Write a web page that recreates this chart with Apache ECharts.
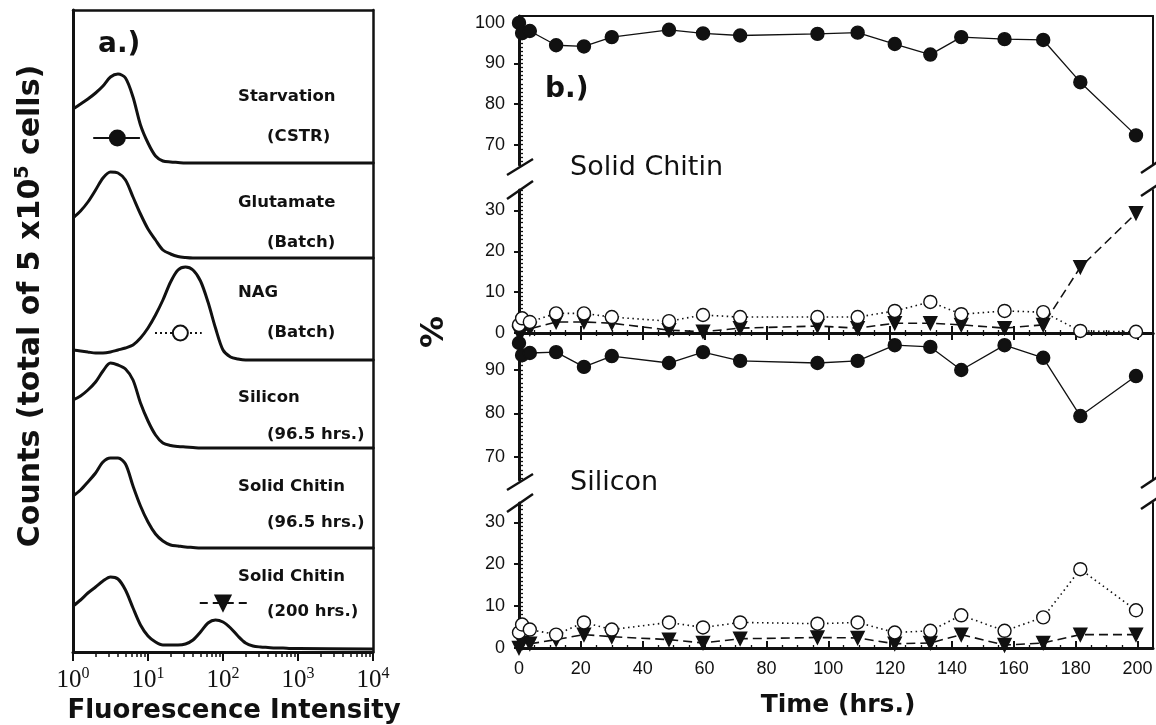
<!DOCTYPE html>
<html>
<head>
<meta charset="utf-8">
<title>Fluorescence histograms and population fractions</title>
<script src="https://cdn.jsdelivr.net/npm/echarts@6.0.0/dist/echarts.min.js"></script>
<style>
  html, body { margin: 0; padding: 0; background: #fff; }
  #chart { width: 1156px; height: 725px; }
</style>
</head>
<body>
<div id="chart"></div>
<script>
// ---- panel a: histograms, counts vs fluorescence intensity (log scale)
const intensity = [1, 1.26, 1.58, 2.0, 2.51, 3.16, 3.98, 5.01, 6.31, 7.94,
  10, 12.6, 15.8, 20.0, 25.1, 31.6, 39.8, 50.1, 63.1, 79.4,
  100, 126, 158, 200, 251, 316, 398, 501, 631, 794, 1000, 10000];

const starvation = [54, 59, 64, 70, 77, 86, 89, 85, 66, 38, 20, 7, 2, 1, 0.5, 0,
  0, 0, 0, 0, 0, 0, 0, 0, 0, 0, 0, 0, 0, 0, 0, 0];
const glutamate = [40, 47, 56, 68, 80, 86, 85, 78, 61, 44, 29, 18, 8, 4, 1.5, 0.5,
  0, 0, 0, 0, 0, 0, 0, 0, 0, 0, 0, 0, 0, 0, 0, 0];
const nag = [10, 9, 8, 7, 7, 8, 10, 12, 15, 22, 32, 45, 60, 78, 90, 93, 90, 79, 58, 32,
  10, 3, 1, 0, 0, 0, 0, 0, 0, 0, 0, 0];
const silicon = [48, 52, 58, 66, 77, 85, 83, 79, 68, 45, 27, 13, 5, 2.5, 1.5, 1, 0.5, 0, 0, 0,
  0, 0, 0, 0, 0, 0, 0, 0, 0, 0, 0, 0];
const chitin96 = [52, 58, 66, 75, 86, 90, 90, 84, 62, 42, 26, 14, 7, 3, 2, 1, 0.5, 0, 0, 0,
  0, 0, 0, 0, 0, 0, 0, 0, 0, 0, 0, 0];
const chitin200 = [46, 52, 59, 65, 71, 75, 73, 62, 44, 27, 16, 10, 7, 7, 7, 8, 12, 20, 29, 32,
  30, 24, 16, 9, 6, 5, 4.5, 4, 4, 3.5, 3.5, 3];

const histNames = ['Starvation', 'Glutamate', 'NAG', 'Silicon', 'Solid Chitin', 'Solid Chitin'];
const histNotes = ['(CSTR)', '(Batch)', '(Batch)', '(96.5 hrs.)', '(96.5 hrs.)', '(200 hrs.)'];

// population markers: which histogram, mean and spread in intensity, height in counts
const markerBand = [0, 2, 5];
const markerMean = [3.9, 27, 100];
const markerLow = [1.86, 12.4, 49];
const markerHigh = [7.8, 52, 214];
const markerLevel = [25, 27, 49];

// ---- panel b: % of cells in each population vs time
const hours = [0, 1, 3.5, 12, 21, 30, 48.5, 59.5, 71.5, 96.5, 109.5, 121.5, 133, 143, 157, 169.5, 181.5, 199.5];
const chitinLow = [100, 97.5, 98, 94.5, 94.2, 96.5, 98.3, 97.4, 96.9, 97.3, 97.6, 94.8, 92.2, 96.5, 96, 95.8, 85.4, 72.3];
const chitinMid = [2, 3.6, 2.7, 4.8, 4.8, 3.9, 2.9, 4.4, 3.9, 3.9, 3.9, 5.4, 7.6, 4.6, 5.4, 5.1, 0.5, 0.3];
const chitinHigh = [0, 0.5, 1, 2.7, 2.7, 2.4, 0.7, 0.3, 1.2, 1.7, 1.2, 2.4, 2.4, 2, 1.2, 2, 16.1, 29.3];
const siliconLow = [96.2, 93.4, 93.9, 94.1, 90.7, 93.2, 91.6, 94.1, 92.1, 91.6, 92.1, 95.7, 95.3, 90, 95.7, 92.8, 79.4, 88.6];
const siliconMid = [3.7, 5.6, 4.4, 3.2, 6.1, 4.4, 6.1, 4.9, 6.1, 5.8, 6.1, 3.7, 4.1, 7.8, 4.1, 7.3, 18.8, 9];
const siliconHigh = [0, 1.2, 1, 2, 3.2, 2.7, 2, 1.2, 2.2, 2.5, 2.4, 1, 1.2, 3.2, 0.7, 1.2, 3.2, 3.2];

const pctTicksUpper = [70, 80, 90, 100];
const pctTicksUpperSi = [70, 80, 90];
const pctTicksLower = [0, 10, 20, 30];

const INK = '#111';
const SANS = 'DejaVu Sans';
const ARIAL = 'Liberation Sans';
const SERIF = 'Liberation Serif';

const chart = echarts.init(document.getElementById('chart'));
const grid = [], xAxis = [], yAxis = [], series = [], graphic = [];
const off = { show: false };

function addGrid(top, height, left, right) {
    grid.push({ left: left, right: right, top: top, height: height, outerBoundsMode: 'none', containLabel: false });
    return grid.length - 1;
}
function axisLine(width) {
    return { show: true, onZero: false, lineStyle: { color: INK, width: width } };
}
function text(x, y, str, font, align, rotation) {
    graphic.push({
        type: 'text', x: x, y: y, z: 20, rotation: rotation || 0,
        style: { text: str, font: font, fill: INK, textAlign: align || 'left', textVerticalAlign: 'middle' }
    });
}

// ---------- panel a ----------
const A_LEFT = 73, A_RIGHT = 1156 - 373;
const bandEdges = [10, 163, 258, 360, 448, 548, 652];
const nameOffsets = [87, 40, 35, 38, 39, 29];
const noteOffsets = [127, 80, 75, 75, 75, 64];
const histograms = [starvation, glutamate, nag, silicon, chitin96, chitin200];
const bandAxes = [];

histograms.forEach(function (counts, i) {
    const top = bandEdges[i];
    const h = bandEdges[i + 1] - top;
    const last = i === histograms.length - 1;
    const g = addGrid(top, h, A_LEFT, A_RIGHT);
    xAxis.push({
        gridIndex: g, type: 'log', logBase: 10, min: 1, max: 10000,
        show: i === 0 || last, position: i === 0 ? 'top' : 'bottom',
        axisLine: axisLine(last ? 3 : 2.5),
        axisTick: { show: last, inside: false, length: 9, lineStyle: { color: INK, width: 2 } },
        axisLabel: {
            show: last, margin: 14,
            formatter: function (v) { return '{b|10}{s|' + Math.round(Math.log10(v)) + '}'; },
            rich: {
                b: { fontFamily: SERIF, fontSize: 25, color: INK, lineHeight: 28 },
                s: { fontFamily: SERIF, fontSize: 16, color: INK, lineHeight: 28, verticalAlign: 'top' }
            }
        },
        splitLine: off, minorTick: off, minorSplitLine: off
    });
    const xi = xAxis.length - 1;
    yAxis.push({ gridIndex: g, type: 'value', min: 0, max: h, position: 'left',
        axisLine: axisLine(3), axisTick: off, axisLabel: off, splitLine: off });
    const yi = yAxis.length - 1;
    yAxis.push({ gridIndex: g, type: 'value', min: 0, max: h, position: 'right',
        axisLine: axisLine(2.5), axisTick: off, axisLabel: off, splitLine: off });
    bandAxes.push([xi, yi]);

    series.push({
        type: 'line', xAxisIndex: xi, yAxisIndex: yi,
        data: intensity.map(function (v, k) { return [v, counts[k]]; }),
        smooth: 0.3, showSymbol: false, symbol: 'none', clip: false,
        lineStyle: { color: INK, width: 3 }, z: 3
    });

    text(238, top + nameOffsets[i], histNames[i], 'bold 16.5px "DejaVu Sans"');
    text(267, top + noteOffsets[i], histNotes[i], 'bold 16.5px "DejaVu Sans"');
});

// minor log ticks on the bottom axis (overlay grid in log10 units)
const gMinor = addGrid(bandEdges[5], bandEdges[6] - bandEdges[5], A_LEFT, A_RIGHT);
const minorDecades = [];
for (let d = 0; d < 4; d++) for (let k = 2; k <= 9; k++) minorDecades.push(d + Math.log10(k));
xAxis.push({ gridIndex: gMinor, type: 'value', min: 0, max: 4, position: 'bottom',
    axisLine: { show: false, onZero: false },
    axisTick: { show: true, inside: false, length: 5, customValues: minorDecades, lineStyle: { color: INK, width: 1.5 } },
    axisLabel: off, splitLine: off });
yAxis.push({ gridIndex: gMinor, type: 'value', min: 0, max: 1, show: false });

const markerStyles = [
    { symbol: 'circle', fill: INK, rotate: 0, dash: 'solid' },
    { symbol: 'circle', fill: '#fff', rotate: 0, dash: [2, 3] },
    { symbol: 'triangle', fill: INK, rotate: 180, dash: [8, 5] }
];
markerBand.forEach(function (b, m) {
    const ax = bandAxes[b];
    const st = markerStyles[m];
    series.push({
        type: 'line', xAxisIndex: ax[0], yAxisIndex: ax[1], symbol: 'none', clip: false, z: 4,
        data: [[markerLow[m], markerLevel[m]], [markerHigh[m], markerLevel[m]]],
        lineStyle: { color: INK, width: 2, type: st.dash }
    });
    series.push({
        type: 'scatter', xAxisIndex: ax[0], yAxisIndex: ax[1], clip: false, z: 5,
        data: [[markerMean[m], markerLevel[m]]],
        symbol: st.symbol, symbolSize: 15, symbolRotate: st.rotate,
        itemStyle: { color: st.fill, borderColor: INK, borderWidth: 2, opacity: 1 }
    });
});

// ---------- panel b ----------
const B_LEFT = 519, B_RIGHT = 3, B_MAX = 205;
const segs = [
    { top: 16, height: 149, min: 65, max: 101.7, ticks: pctTicksUpper, xPos: 'top', xKind: 'frame' },
    { top: 190, height: 143, min: 0, max: 35, ticks: pctTicksLower, xPos: 'bottom', xKind: 'ticks' },
    { top: 333, height: 147, min: 64.7, max: 98.5, ticks: pctTicksUpperSi, xPos: 'top', xKind: 'ticks' },
    { top: 503, height: 145, min: 0, max: 34.6, ticks: pctTicksLower, xPos: 'bottom', xKind: 'labels' }
];
const popStyles = {
    low: { symbol: 'circle', fill: INK, rotate: 0, dash: 'solid', width: 1.3 },
    mid: { symbol: 'circle', fill: '#fff', rotate: 0, dash: [1.5, 3.5], width: 1.6 },
    high: { symbol: 'triangle', fill: INK, rotate: 180, dash: [9, 5], width: 1.6 }
};
const segSeries = [
    [['low', chitinLow]],
    [['high', chitinHigh], ['mid', chitinMid]],
    [['low', siliconLow]],
    [['high', siliconHigh], ['mid', siliconMid]]
];

segs.forEach(function (s, i) {
    const g = addGrid(s.top, s.height, B_LEFT, B_RIGHT);
    const framed = s.xKind === 'frame';
    xAxis.push({
        gridIndex: g, type: 'value', min: 0, max: B_MAX, interval: 20, position: s.xPos,
        axisLine: axisLine(framed ? 2 : 3),
        axisTick: { show: !framed, inside: true, length: 7, lineStyle: { color: INK, width: 2 } },
        minorTick: { show: !framed, splitNumber: 4, length: 3, lineStyle: { color: INK, width: 1.3 } },
        axisLabel: { show: s.xKind === 'labels', margin: 12, fontFamily: ARIAL, fontSize: 18, color: INK },
        splitLine: off, minorSplitLine: off
    });
    const xi = xAxis.length - 1;
    yAxis.push({
        gridIndex: g, type: 'value', min: s.min, max: s.max, position: 'left',
        axisLine: axisLine(3),
        axisTick: { show: true, inside: false, length: 5, customValues: s.ticks, lineStyle: { color: INK, width: 2 } },
        axisLabel: { show: true, customValues: s.ticks, margin: 14, fontFamily: ARIAL, fontSize: 18, color: INK },
        splitLine: off
    });
    const yi = yAxis.length - 1;
    yAxis.push({ gridIndex: g, type: 'value', min: s.min, max: s.max, position: 'right',
        axisLine: axisLine(2), axisTick: off, axisLabel: off, splitLine: off });

    // dense minor ticks every 1 % on the inside of the left axis
    const go = addGrid(s.top, s.height, B_LEFT, B_RIGHT);
    const ints = [];
    for (let v = Math.ceil(s.min); v <= Math.floor(s.max); v++) ints.push(v);
    xAxis.push({ gridIndex: go, type: 'value', min: 0, max: B_MAX, show: false });
    yAxis.push({ gridIndex: go, type: 'value', min: s.min, max: s.max, position: 'left',
        axisLine: { show: false, onZero: false },
        axisTick: { show: true, inside: true, length: 4, customValues: ints, lineStyle: { color: INK, width: 1.3 } },
        axisLabel: off, splitLine: off });

    segSeries[i].forEach(function (pair) {
        const st = popStyles[pair[0]];
        series.push({
            type: 'line', xAxisIndex: xi, yAxisIndex: yi, clip: false, z: pair[0] === 'mid' ? 6 : 5,
            data: hours.map(function (t, k) { return [t, pair[1][k]]; }),
            symbol: st.symbol, symbolSize: 13, symbolRotate: st.rotate, showSymbol: true,
            itemStyle: { color: st.fill, borderColor: INK, borderWidth: 1.4, opacity: 1 },
            lineStyle: { color: INK, width: st.width, type: st.dash }
        });
    });
});

// axis break marks
function slash(cx, cy, dx, dy) {
    graphic.push({ type: 'line', z: 20, shape: { x1: cx - dx, y1: cy + dy, x2: cx + dx, y2: cy - dy },
        style: { stroke: INK, lineWidth: 2.5 } });
}
const bRightX = 1156 - B_RIGHT;
[[segs[0], segs[1]], [segs[2], segs[3]]].forEach(function (p) {
    const yA = p[0].top + p[0].height + 2;
    const yB = p[1].top;
    slash(B_LEFT + 1, yA, 13, 8);
    slash(B_LEFT + 1, yB, 13, 9);
    slash(bRightX - 3, yA, 9, 6);
    slash(bRightX - 3, yB, 9, 6);
});

// ---------- texts ----------
text(98, 45, 'a.)', 'bold 28px "DejaVu Sans"');
text(545, 90, 'b.)', 'bold 28px "DejaVu Sans"');
text(570, 168, 'Solid Chitin', '27px "DejaVu Sans"');
text(570, 483, 'Silicon', '27px "DejaVu Sans"');
text(234, 711, 'Fluorescence Intensity', 'bold 26px "DejaVu Sans"', 'center');
text(838, 705, 'Time (hrs.)', 'bold 25px "DejaVu Sans"', 'center');
text(435, 332, '%', 'bold 32px "DejaVu Sans"', 'center', Math.PI / 2);

graphic.push({
    type: 'text', x: 31, y: 306, rotation: Math.PI / 2, z: 20,
    style: {
        text: '{t|Counts (total of 5 x10}{s|5}{t| cells)}',
        textAlign: 'center', textVerticalAlign: 'middle',
        rich: {
            t: { fontFamily: SANS, fontWeight: 'bold', fontSize: 30, fill: INK, color: INK, lineHeight: 34 },
            s: { fontFamily: SANS, fontWeight: 'bold', fontSize: 19, fill: INK, color: INK, lineHeight: 34, verticalAlign: 'top' }
        }
    }
});

chart.setOption({
    animation: false,
    backgroundColor: '#fff',
    grid: grid,
    xAxis: xAxis,
    yAxis: yAxis,
    series: series,
    graphic: graphic
});
</script>
</body>
</html>
